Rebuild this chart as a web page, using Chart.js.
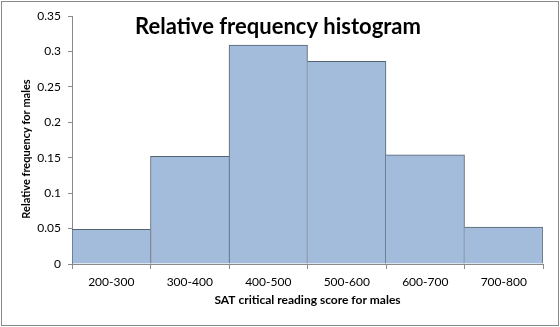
<!DOCTYPE html>
<html>
<head>
<meta charset="utf-8">
<script src="https://cdn.jsdelivr.net/npm/chart.js@4/dist/chart.umd.min.js"></script>
<style>
html,body{margin:0;padding:0;background:#fff;}
#wrap{width:560px;height:327px;position:relative;}
</style>
</head>
<body>
<div id="wrap"><canvas id="c" width="560" height="327"></canvas></div>
<script>
const categories = ["200-300","300-400","400-500","500-600","600-700","700-800"];
const relFreq = [0.049, 0.152, 0.309, 0.286, 0.154, 0.052];
const yTickValues = [0, 0.05, 0.1, 0.15, 0.2, 0.25, 0.3, 0.35];
const chartTitle = "Relative frequency histogram";
const xTitle = "SAT critical reading score for males";
const yTitle = "Relative frequency for males";

const FONT = "Lato, 'Liberation Sans', sans-serif";

const decor = {
  id: 'decor',
  beforeDraw(chart) {
    const ctx = chart.ctx;
    ctx.save();
    ctx.fillStyle = '#fff';
    ctx.fillRect(0, 0, chart.width, chart.height);
    ctx.restore();
  },
  afterDraw(chart) {
    const ctx = chart.ctx;
    const a = chart.chartArea;
    ctx.save();
    ctx.strokeStyle = '#8a8a8a';
    ctx.lineWidth = 1;
    ctx.strokeRect(1.5, 1.5, chart.width - 3, chart.height - 3);
    ctx.fillStyle = '#000';
    ctx.textAlign = 'center';
    ctx.textBaseline = 'middle';
    ctx.font = "bold 22px " + FONT;
    ctx.fillText(chartTitle, 278, 27);
    ctx.font = "bold 12px " + FONT;
    ctx.fillText(xTitle, (a.left + a.right) / 2, 300);
    ctx.translate(26, 149);
    ctx.rotate(-Math.PI / 2);
    ctx.font = "bold 11px " + FONT;
    ctx.fillText(yTitle, 0, 0);
    ctx.restore();
  }
};

const n = relFreq.length;
new Chart(document.getElementById('c'), {
  type: 'bar',
  data: {
    labels: categories,
    datasets: [{
      data: relFreq,
      backgroundColor: '#a3bcdb',
      borderColor: '#55626f',
      borderSkipped: false,
      borderWidth: (ctx) => {
        const i = ctx.dataIndex;
        const v = relFreq[i];
        const left = (i === 0 || v >= relFreq[i - 1]) ? 1 : 0;
        const right = (i === n - 1 || v > relFreq[i + 1]) ? 1 : 0;
        return {top: 1, left: left, right: right, bottom: 0};
      },
      categoryPercentage: 1,
      barPercentage: 1
    }]
  },
  options: {
    responsive: false,
    animation: false,
    devicePixelRatio: 1,
    layout: {padding: {left: 0, right: 17, top: 16, bottom: 0}},
    plugins: {legend: {display: false}, title: {display: false}, tooltip: {enabled: false}},
    scales: {
      x: {
        grid: {offset: true, drawOnChartArea: false, drawTicks: true, tickLength: 5, color: '#8a8a8a'},
        border: {color: '#8a8a8a'},
        ticks: {font: {family: FONT, size: 12}, color: '#000', padding: 6, maxRotation: 0},
        afterFit: (s) => { s.height = 327 - 264; }
      },
      y: {
        min: 0, max: 0.35,
        afterBuildTicks: (s) => { s.ticks = yTickValues.map(v => ({value: v})); },
        grid: {drawOnChartArea: false, drawTicks: true, tickLength: 4, color: '#8a8a8a'},
        border: {color: '#8a8a8a'},
        ticks: {font: {family: FONT, size: 12}, color: '#000', padding: 7,
          callback: (v) => String(Math.round(v * 100) / 100)},
        afterFit: (s) => { s.width = 72; }
      }
    }
  },
  plugins: [decor]
});
</script>
</body>
</html>
